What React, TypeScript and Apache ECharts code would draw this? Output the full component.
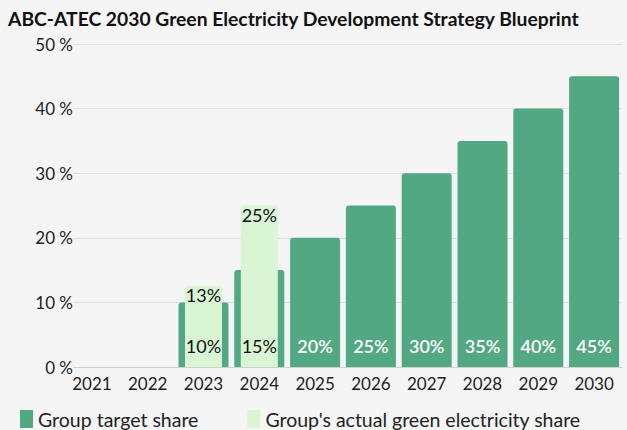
import React, { useEffect, useRef } from "react";
import * as echarts from "echarts";

const years = ["2021", "2022", "2023", "2024", "2025", "2026", "2027", "2028", "2029", "2030"];
const targetShare: (number | null)[] = [null, null, 10, 15, 20, 25, 30, 35, 40, 45];
const actualShare: (number | null)[] = [null, null, 12.5, 25, null, null, null, null, null, null];
const yTicks = [0, 10, 20, 30, 40, 50];

const FONT = "Lato";
const DARK = "#52a882";
const LIGHT = "#daf5d4";

const pct = (p: any) => (p.value == null ? "" : Math.round(p.value) + "%");

export default function App() {
  const ref = useRef<HTMLDivElement>(null);
  useEffect(() => {
    const chart = echarts.init(ref.current!, null, { renderer: "svg" });
    // target values that sit behind an actual-share bar get their label drawn on top
    const overlapped = targetShare.map((v, i) => (actualShare[i] != null ? v : null));
    chart.setOption({
      animation: false,
      backgroundColor: "#f5f5f5",
      textStyle: { fontFamily: FONT },
      title: {
        text: "ABC-ATEC 2030 Green Electricity Development Strategy Blueprint",
        left: 3,
        top: 4,
        textStyle: { fontFamily: FONT, fontSize: 19.3, fontWeight: "bold", color: "#111" },
      },
      legend: {
        left: 15,
        top: 404,
        itemWidth: 13,
        itemHeight: 18,
        itemGap: 49,
        icon: "rect",
        textStyle: { fontFamily: FONT, fontSize: 19.5, color: "#222" },
        data: ["Group target share", "Group's actual green electricity share"],
      },
      grid: { left: 64, right: 5, top: 44, bottom: 63 },
      xAxis: [
        {
          type: "category",
          data: years,
          axisLine: { lineStyle: { color: "#d0d0d0" } },
          axisTick: { show: false },
          axisLabel: { fontFamily: FONT, fontSize: 17, color: "#222", margin: 8 },
        },
        { type: "category", data: years, show: false },
        { type: "category", data: years, show: false },
      ],
      yAxis: {
        type: "value",
        min: 0,
        max: 50,
        interval: 10,
        axisLine: { show: false },
        axisTick: { show: false },
        splitLine: { lineStyle: { color: "#dedede" } },
        axisLabel: {
          fontFamily: FONT,
          fontSize: 17,
          color: "#222",
          margin: -9,
          backgroundColor: "#f5f5f5",
          formatter: (v: number) => (yTicks.includes(v) ? v + " %" : ""),
        },
      },
      series: [
        {
          name: "Group target share",
          type: "bar",
          xAxisIndex: 0,
          barWidth: 50,
          itemStyle: { color: DARK, borderRadius: [3, 3, 0, 0] },
          data: targetShare.map((v, i) => ({
            value: v,
            label: { show: actualShare[i] == null },
          })),
          label: {
            show: true,
            position: "insideBottom",
            distance: 12,
            fontFamily: FONT,
            fontSize: 18,
            fontWeight: 600,
            color: "#fff",
            formatter: pct,
          },
          z: 2,
        },
        {
          name: "Group's actual green electricity share",
          type: "bar",
          xAxisIndex: 1,
          barWidth: 37,
          itemStyle: { color: LIGHT, borderRadius: [2, 2, 0, 0] },
          data: actualShare,
          label: {
            show: true,
            position: "insideTop",
            distance: 0,
            fontFamily: FONT,
            fontSize: 18,
            color: "#111",
            formatter: pct,
          },
          z: 3,
        },
        {
          name: "labels",
          type: "bar",
          xAxisIndex: 2,
          barWidth: 50,
          silent: true,
          itemStyle: { color: "rgba(0,0,0,0)" },
          data: overlapped,
          label: {
            show: true,
            position: "insideBottom",
            distance: 12,
            fontFamily: FONT,
            fontSize: 18,
            color: "#111",
            formatter: pct,
          },
          z: 4,
        },
      ],
    });
    return () => chart.dispose();
  }, []);
  return <div ref={ref} style={{ position: "fixed", left: 0, top: 0, width: 627, height: 430 }} />;
}
